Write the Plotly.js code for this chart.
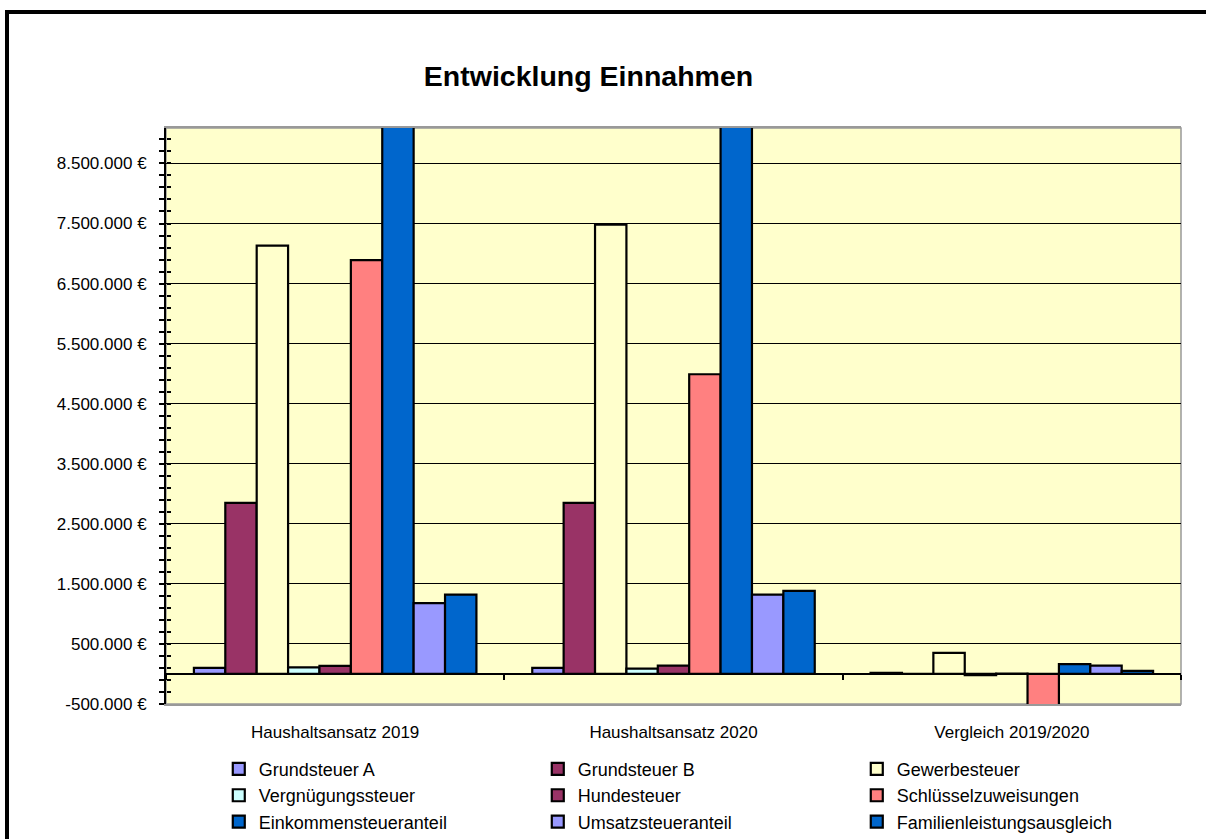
<!DOCTYPE html>
<html>
<head>
<meta charset="utf-8">
<script src="https://cdn.plot.ly/plotly-3.0.1.min.js"></script>
<style>
  html, body { margin: 0; padding: 0; background: #fff; overflow: hidden; }
  #chart { position: absolute; left: 0; top: 0; width: 1206px; height: 839px; }
  #frame { position: absolute; left: 5px; top: 10px; width: 1400px; height: 1000px;
           border-left: 4px solid #000; border-top: 4px solid #000; pointer-events: none; }
</style>
</head>
<body>
<div id="chart"></div>
<div id="frame"></div>
<script>
// ---- data ----
const categories = ["Haushaltsansatz 2019", "Haushaltsansatz 2020", "Vergleich 2019/2020"];

const seriesNames = [
  "Grundsteuer A", "Grundsteuer B", "Gewerbesteuer",
  "Vergnügungssteuer", "Hundesteuer", "Schlüsselzuweisungen",
  "Einkommensteueranteil", "Umsatzsteueranteil", "Familienleistungsausgleich"
];

const grundsteuerA         = [100000, 100000, 20000];
const grundsteuerB         = [2850000, 2850000, 0];
const gewerbesteuer        = [7130000, 7480000, 350000];
const vergnuegungssteuer   = [110000, 90000, -20000];
const hundesteuer          = [135000, 140000, 5000];
const schluesselzuweisungen= [6890000, 4990000, -1900000];
const einkommensteueranteil= [9800000, 9965000, 165000];
const umsatzsteueranteil   = [1180000, 1320000, 140000];
const familienleistung     = [1320000, 1385000, 50000];

const yTickVals = [-500000, 500000, 1500000, 2500000, 3500000, 4500000, 5500000, 6500000, 7500000, 8500000];
const yTickText = ["-500.000 €", "500.000 €", "1.500.000 €", "2.500.000 €", "3.500.000 €",
                   "4.500.000 €", "5.500.000 €", "6.500.000 €", "7.500.000 €", "8.500.000 €"];

const seriesValues = [grundsteuerA, grundsteuerB, gewerbesteuer, vergnuegungssteuer, hundesteuer,
                      schluesselzuweisungen, einkommensteueranteil, umsatzsteueranteil, familienleistung];

const seriesColors = ["#9999FF", "#993366", "#FFFFCC", "#CCFFFF", "#993366",
                      "#FF8080", "#0066CC", "#9999FF", "#0066CC"];

const yRange = [-500000, 9090000];

// ---- traces ----
const traces = seriesNames.map((name, i) => ({
  type: "bar",
  name: name,
  x: categories,
  y: seriesValues[i],
  marker: { color: seriesColors[i], line: { color: "#000", width: 2.2 } },
  hoverinfo: "x+y+name"
}));

// helper trace for overlay axes (cross ticks)
traces.push({
  type: "scatter", mode: "lines", x: categories, y: [null, null, null],
  xaxis: "x2", yaxis: "y2", showlegend: false, hoverinfo: "skip"
});

const font = "Liberation Sans, Arial, sans-serif";
const zeroPos = (0 - yRange[0]) / (yRange[1] - yRange[0]);

const layout = {
  width: 1206, height: 839,
  margin: { l: 166, r: 25, t: 128, b: 135, autoexpand: false },
  paper_bgcolor: "#FFFFFF",
  plot_bgcolor: "#FFFFCC",
  font: { family: font, color: "#000" },
  title: {
    text: "<b>Entwicklung Einnahmen</b>",
    font: { family: font, size: 28.5, color: "#000" },
    x: 0.488, xanchor: "center",
    y: 1 - 76 / 839, yref: "container", yanchor: "middle"
  },
  barmode: "group",
  bargap: 0.165,
  bargroupgap: 0,
  showlegend: true,
  legend: {
    orientation: "h",
    x: 0.052, xanchor: "left",
    y: -0.081, yanchor: "top",
    entrywidth: 274, entrywidthmode: "pixels",
    font: { family: font, size: 18, color: "#000" },
    bgcolor: "rgba(0,0,0,0)",
    traceorder: "normal",
    itemwidth: 30
  },
  xaxis: {
    type: "category",
    categoryorder: "array", categoryarray: categories,
    range: [-0.5, 2.5],
    showgrid: false, zeroline: false,
    showline: true, linecolor: "#999999", linewidth: 2, mirror: true,
    ticks: "", ticklabelstandoff: 12,
    tickfont: { family: font, size: 17, color: "#000" }
  },
  yaxis: {
    range: yRange,
    tickvals: yTickVals, ticktext: yTickText,
    showgrid: true, gridcolor: "#000", gridwidth: 1,
    zeroline: true, zerolinecolor: "#000", zerolinewidth: 1.5,
    showline: true, linecolor: "#000", linewidth: 2,
    ticks: "outside", ticklen: 5, tickcolor: "#000", tickwidth: 1.5,
    minor: { tick0: -500000, dtick: 200000, ticks: "outside", ticklen: 5, tickcolor: "#000", tickwidth: 1.5, showgrid: false },
    ticklabelstandoff: 9,
    tickfont: { family: font, size: 17, color: "#000" }
  },
  xaxis2: {
    type: "category", overlaying: "x", anchor: "free", position: zeroPos,
    categoryorder: "array", categoryarray: categories, range: [-0.5, 2.5],
    showgrid: false, zeroline: false, showline: false, showticklabels: false,
    ticks: "outside", tickson: "boundaries", ticklen: 5, tickcolor: "#000", tickwidth: 1.5
  },
  yaxis2: {
    overlaying: "y", anchor: "free", position: 0, side: "left",
    range: yRange, tickvals: yTickVals, showticklabels: false,
    showgrid: false, zeroline: false, showline: false,
    ticks: "inside", ticklen: 4, tickcolor: "#000", tickwidth: 1.5,
    minor: { tick0: -500000, dtick: 200000, ticks: "inside", ticklen: 4, tickcolor: "#000", tickwidth: 1.5, showgrid: false }
  },
  shapes: [{
    type: "rect", xref: "paper", yref: "paper", x0: 0, x1: 1, y0: 0, y1: 1,
    line: { color: "#999999", width: 1.5 }, layer: "below"
  }]
};

Plotly.newPlot("chart", traces, layout, { displayModeBar: false, responsive: false });
</script>
</body>
</html>
